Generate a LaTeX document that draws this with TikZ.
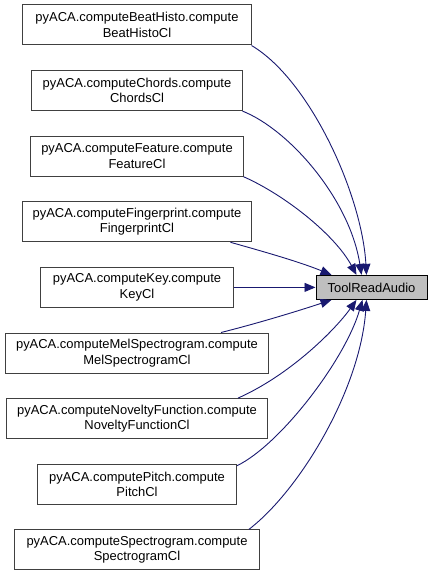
\documentclass[tikz,border=0pt]{standalone}
\usepackage{fontspec}
\setmainfont{Liberation Sans}
\usetikzlibrary{arrows.meta}
\definecolor{edgeblue}{RGB}{25,25,112}
\definecolor{boxline}{RGB}{64,64,64}
\tikzset{
  fnbox/.style={draw=boxline, line width=1bp, fill=white, minimum height=40bp, inner sep=0pt,
    align=center, font=\fontsize{13}{15.5}\selectfont},
  target/.style={draw=black, line width=1bp, fill=black!25, minimum height=24bp, inner sep=0pt,
    align=center, font=\fontsize{13}{15.5}\selectfont},
  call/.style={draw=edgeblue, line width=0.9bp, -{Triangle[length=11bp,width=9bp]}, fill=none},
}
\begin{document}
\begin{tikzpicture}[x=1bp,y=-1bp]
\useasboundingbox (0,0) rectangle (432,575);
\node[fnbox, minimum width=228bp] (b1) at (137,25) {pyACA.computeBeatHisto.compute\\BeatHistoCl};
\node[fnbox, minimum width=210bp] (b2) at (137,90.6) {pyACA.computeChords.compute\\ChordsCl};
\node[fnbox, minimum width=212bp] (b3) at (137,156.2) {pyACA.computeFeature.compute\\FeatureCl};
\node[fnbox, minimum width=228bp] (b4) at (137,221.8) {pyACA.computeFingerprint.compute\\FingerprintCl};
\node[fnbox, minimum width=192bp] (b5) at (137,287.4) {pyACA.computeKey.compute\\KeyCl};
\node[fnbox, minimum width=263bp] (b6) at (137,353) {pyACA.computeMelSpectrogram.compute\\MelSpectrogramCl};
\node[fnbox, minimum width=261bp] (b7) at (137,418.6) {pyACA.computeNoveltyFunction.compute\\NoveltyFunctionCl};
\node[fnbox, minimum width=199bp] (b8) at (137,484.2) {pyACA.computePitch.compute\\PitchCl};
\node[fnbox, minimum width=245bp] (b9) at (137,549.8) {pyACA.computeSpectrogram.compute\\SpectrogramCl};
\node[target, minimum width=111bp] (t) at (371.5,287.4) {ToolReadAudio};

\draw[call] (b1.south east) .. controls (310,80) and (362,195) .. ([xshift=51bp]t.north west);
\draw[call] (b2.south east) .. controls (290,130) and (350,200) .. ([xshift=46bp]t.north west);
\draw[call] (b3.south east) .. controls (285,195) and (335,235) .. ([xshift=41bp]t.north west);
\draw[call] ([xshift=-21bp]b4.south east) .. controls (265,252) and (300,262) .. ([xshift=16bp]t.north west);
\draw[call] (b5.east) -- (t.west);
\draw[call] ([xshift=-48bp]b6.north east) .. controls (255,324) and (295,312) .. ([xshift=16bp]t.south west);
\draw[call] ([xshift=-30bp]b7.north east) .. controls (290,375) and (335,330) .. ([xshift=41bp]t.south west);
\draw[call] ([yshift=-2bp]b8.north east) .. controls (280,445) and (345,360) .. ([xshift=47bp]t.south west);
\draw[call] ([xshift=-11bp]b9.north east) .. controls (300,490) and (360,390) .. ([xshift=51bp]t.south west);
\end{tikzpicture}
\end{document}
